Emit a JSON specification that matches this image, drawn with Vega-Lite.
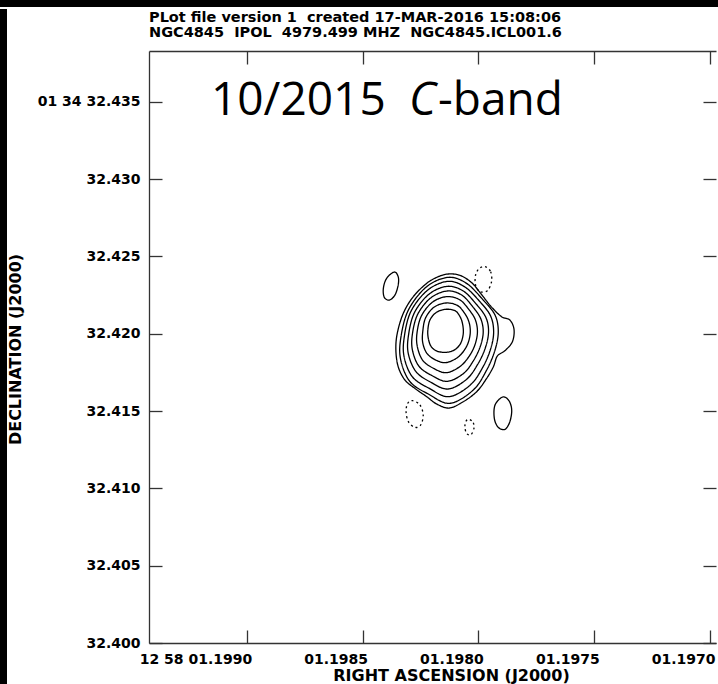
{
"$schema": "https://vega.github.io/schema/vega-lite/v6.json",
"padding": 0,
"background": "white",
"spacing": 2,
"config": {"view": {"stroke": null}},
"datasets": {
"blank": [{"v": 1}],
"txt": [{"t": "10/2015", "ra": 1.199154, "dec": 32.434139}, {"t": "-band", "ra": 1.198174, "dec": 32.434139}],
"txtC": [{"t": "C", "ra": 1.198299, "dec": 32.434139}],
"contours": [
{"id":"c1","i":1,"ra":1.198130,"dec":32.423859,"s":"pos"},
{"id":"c1","i":2,"ra":1.198079,"dec":32.423773,"s":"pos"},
{"id":"c1","i":3,"ra":1.198029,"dec":32.423299,"s":"pos"},
{"id":"c1","i":4,"ra":1.197990,"dec":32.422609,"s":"pos"},
{"id":"c1","i":5,"ra":1.197947,"dec":32.421790,"s":"pos"},
{"id":"c1","i":6,"ra":1.197900,"dec":32.421100,"s":"pos"},
{"id":"c1","i":7,"ra":1.197864,"dec":32.420885,"s":"pos"},
{"id":"c1","i":8,"ra":1.197846,"dec":32.420281,"s":"pos"},
{"id":"c1","i":9,"ra":1.197853,"dec":32.419484,"s":"pos"},
{"id":"c1","i":10,"ra":1.197885,"dec":32.418902,"s":"pos"},
{"id":"c1","i":11,"ra":1.197918,"dec":32.418557,"s":"pos"},
{"id":"c1","i":12,"ra":1.197935,"dec":32.417867,"s":"pos"},
{"id":"c1","i":13,"ra":1.197964,"dec":32.417113,"s":"pos"},
{"id":"c1","i":14,"ra":1.198007,"dec":32.416251,"s":"pos"},
{"id":"c1","i":15,"ra":1.198065,"dec":32.415604,"s":"pos"},
{"id":"c1","i":16,"ra":1.198125,"dec":32.415195,"s":"pos"},
{"id":"c1","i":17,"ra":1.198180,"dec":32.415453,"s":"pos"},
{"id":"c1","i":18,"ra":1.198223,"dec":32.415928,"s":"pos"},
{"id":"c1","i":19,"ra":1.198274,"dec":32.416466,"s":"pos"},
{"id":"c1","i":20,"ra":1.198317,"dec":32.417005,"s":"pos"},
{"id":"c1","i":21,"ra":1.198346,"dec":32.417867,"s":"pos"},
{"id":"c1","i":22,"ra":1.198356,"dec":32.418945,"s":"pos"},
{"id":"c1","i":23,"ra":1.198350,"dec":32.420023,"s":"pos"},
{"id":"c1","i":24,"ra":1.198324,"dec":32.421316,"s":"pos"},
{"id":"c1","i":25,"ra":1.198281,"dec":32.422394,"s":"pos"},
{"id":"c1","i":26,"ra":1.198223,"dec":32.423256,"s":"pos"},
{"id":"c1","i":27,"ra":1.198173,"dec":32.423687,"s":"pos"},
{"id":"c2","i":1,"ra":1.198130,"dec":32.423644,"s":"pos"},
{"id":"c2","i":2,"ra":1.198051,"dec":32.423256,"s":"pos"},
{"id":"c2","i":3,"ra":1.197979,"dec":32.422178,"s":"pos"},
{"id":"c2","i":4,"ra":1.197928,"dec":32.421208,"s":"pos"},
{"id":"c2","i":5,"ra":1.197914,"dec":32.420130,"s":"pos"},
{"id":"c2","i":6,"ra":1.197928,"dec":32.418945,"s":"pos"},
{"id":"c2","i":7,"ra":1.197964,"dec":32.417652,"s":"pos"},
{"id":"c2","i":8,"ra":1.198022,"dec":32.416359,"s":"pos"},
{"id":"c2","i":9,"ra":1.198123,"dec":32.415497,"s":"pos"},
{"id":"c2","i":10,"ra":1.198216,"dec":32.416100,"s":"pos"},
{"id":"c2","i":11,"ra":1.198295,"dec":32.416898,"s":"pos"},
{"id":"c2","i":12,"ra":1.198335,"dec":32.418298,"s":"pos"},
{"id":"c2","i":13,"ra":1.198335,"dec":32.419700,"s":"pos"},
{"id":"c2","i":14,"ra":1.198302,"dec":32.421531,"s":"pos"},
{"id":"c2","i":15,"ra":1.198223,"dec":32.423040,"s":"pos"},
{"id":"c3","i":1,"ra":1.198131,"dec":32.423385,"s":"pos"},
{"id":"c3","i":2,"ra":1.198058,"dec":32.423019,"s":"pos"},
{"id":"c3","i":3,"ra":1.197992,"dec":32.422049,"s":"pos"},
{"id":"c3","i":4,"ra":1.197947,"dec":32.421143,"s":"pos"},
{"id":"c3","i":5,"ra":1.197934,"dec":32.420109,"s":"pos"},
{"id":"c3","i":6,"ra":1.197947,"dec":32.419010,"s":"pos"},
{"id":"c3","i":7,"ra":1.197981,"dec":32.417824,"s":"pos"},
{"id":"c3","i":8,"ra":1.198035,"dec":32.416682,"s":"pos"},
{"id":"c3","i":9,"ra":1.198127,"dec":32.415928,"s":"pos"},
{"id":"c3","i":10,"ra":1.198212,"dec":32.416466,"s":"pos"},
{"id":"c3","i":11,"ra":1.198284,"dec":32.417199,"s":"pos"},
{"id":"c3","i":12,"ra":1.198320,"dec":32.418471,"s":"pos"},
{"id":"c3","i":13,"ra":1.198320,"dec":32.419764,"s":"pos"},
{"id":"c3","i":14,"ra":1.198291,"dec":32.421445,"s":"pos"},
{"id":"c3","i":15,"ra":1.198218,"dec":32.422825,"s":"pos"},
{"id":"c4","i":1,"ra":1.198134,"dec":32.423062,"s":"pos"},
{"id":"c4","i":2,"ra":1.198065,"dec":32.422760,"s":"pos"},
{"id":"c4","i":3,"ra":1.198007,"dec":32.421876,"s":"pos"},
{"id":"c4","i":4,"ra":1.197967,"dec":32.421036,"s":"pos"},
{"id":"c4","i":5,"ra":1.197956,"dec":32.420109,"s":"pos"},
{"id":"c4","i":6,"ra":1.197970,"dec":32.419074,"s":"pos"},
{"id":"c4","i":7,"ra":1.198002,"dec":32.418040,"s":"pos"},
{"id":"c4","i":8,"ra":1.198051,"dec":32.417048,"s":"pos"},
{"id":"c4","i":9,"ra":1.198131,"dec":32.416423,"s":"pos"},
{"id":"c4","i":10,"ra":1.198207,"dec":32.416876,"s":"pos"},
{"id":"c4","i":11,"ra":1.198269,"dec":32.417544,"s":"pos"},
{"id":"c4","i":12,"ra":1.198302,"dec":32.418686,"s":"pos"},
{"id":"c4","i":13,"ra":1.198302,"dec":32.419850,"s":"pos"},
{"id":"c4","i":14,"ra":1.198276,"dec":32.421359,"s":"pos"},
{"id":"c4","i":15,"ra":1.198212,"dec":32.422566,"s":"pos"},
{"id":"c5","i":1,"ra":1.198135,"dec":32.422760,"s":"pos"},
{"id":"c5","i":2,"ra":1.198072,"dec":32.422501,"s":"pos"},
{"id":"c5","i":3,"ra":1.198022,"dec":32.421704,"s":"pos"},
{"id":"c5","i":4,"ra":1.197989,"dec":32.420949,"s":"pos"},
{"id":"c5","i":5,"ra":1.197979,"dec":32.420087,"s":"pos"},
{"id":"c5","i":6,"ra":1.197992,"dec":32.419161,"s":"pos"},
{"id":"c5","i":7,"ra":1.198022,"dec":32.418234,"s":"pos"},
{"id":"c5","i":8,"ra":1.198065,"dec":32.417415,"s":"pos"},
{"id":"c5","i":9,"ra":1.198135,"dec":32.416919,"s":"pos"},
{"id":"c5","i":10,"ra":1.198202,"dec":32.417307,"s":"pos"},
{"id":"c5","i":11,"ra":1.198256,"dec":32.417889,"s":"pos"},
{"id":"c5","i":12,"ra":1.198284,"dec":32.418902,"s":"pos"},
{"id":"c5","i":13,"ra":1.198285,"dec":32.419937,"s":"pos"},
{"id":"c5","i":14,"ra":1.198262,"dec":32.421251,"s":"pos"},
{"id":"c5","i":15,"ra":1.198206,"dec":32.422307,"s":"pos"},
{"id":"c6","i":1,"ra":1.198138,"dec":32.422394,"s":"pos"},
{"id":"c6","i":2,"ra":1.198081,"dec":32.422200,"s":"pos"},
{"id":"c6","i":3,"ra":1.198039,"dec":32.421531,"s":"pos"},
{"id":"c6","i":4,"ra":1.198012,"dec":32.420863,"s":"pos"},
{"id":"c6","i":5,"ra":1.198004,"dec":32.420066,"s":"pos"},
{"id":"c6","i":6,"ra":1.198016,"dec":32.419225,"s":"pos"},
{"id":"c6","i":7,"ra":1.198043,"dec":32.418471,"s":"pos"},
{"id":"c6","i":8,"ra":1.198082,"dec":32.417846,"s":"pos"},
{"id":"c6","i":9,"ra":1.198140,"dec":32.417479,"s":"pos"},
{"id":"c6","i":10,"ra":1.198196,"dec":32.417781,"s":"pos"},
{"id":"c6","i":11,"ra":1.198240,"dec":32.418277,"s":"pos"},
{"id":"c6","i":12,"ra":1.198263,"dec":32.419139,"s":"pos"},
{"id":"c6","i":13,"ra":1.198265,"dec":32.420023,"s":"pos"},
{"id":"c6","i":14,"ra":1.198246,"dec":32.421143,"s":"pos"},
{"id":"c6","i":15,"ra":1.198199,"dec":32.422027,"s":"pos"},
{"id":"c7","i":1,"ra":1.198141,"dec":32.421984,"s":"pos"},
{"id":"c7","i":2,"ra":1.198091,"dec":32.421833,"s":"pos"},
{"id":"c7","i":3,"ra":1.198059,"dec":32.421316,"s":"pos"},
{"id":"c7","i":4,"ra":1.198040,"dec":32.420734,"s":"pos"},
{"id":"c7","i":5,"ra":1.198035,"dec":32.420044,"s":"pos"},
{"id":"c7","i":6,"ra":1.198046,"dec":32.419333,"s":"pos"},
{"id":"c7","i":7,"ra":1.198071,"dec":32.418730,"s":"pos"},
{"id":"c7","i":8,"ra":1.198102,"dec":32.418342,"s":"pos"},
{"id":"c7","i":9,"ra":1.198145,"dec":32.418126,"s":"pos"},
{"id":"c7","i":10,"ra":1.198190,"dec":32.418342,"s":"pos"},
{"id":"c7","i":11,"ra":1.198223,"dec":32.418751,"s":"pos"},
{"id":"c7","i":12,"ra":1.198240,"dec":32.419419,"s":"pos"},
{"id":"c7","i":13,"ra":1.198240,"dec":32.420130,"s":"pos"},
{"id":"c7","i":14,"ra":1.198228,"dec":32.421014,"s":"pos"},
{"id":"c7","i":15,"ra":1.198192,"dec":32.421704,"s":"pos"},
{"id":"c8","i":1,"ra":1.198144,"dec":32.421575,"s":"pos"},
{"id":"c8","i":2,"ra":1.198101,"dec":32.421488,"s":"pos"},
{"id":"c8","i":3,"ra":1.198079,"dec":32.421100,"s":"pos"},
{"id":"c8","i":4,"ra":1.198068,"dec":32.420626,"s":"pos"},
{"id":"c8","i":5,"ra":1.198065,"dec":32.420023,"s":"pos"},
{"id":"c8","i":6,"ra":1.198075,"dec":32.419419,"s":"pos"},
{"id":"c8","i":7,"ra":1.198097,"dec":32.419010,"s":"pos"},
{"id":"c8","i":8,"ra":1.198123,"dec":32.418837,"s":"pos"},
{"id":"c8","i":9,"ra":1.198151,"dec":32.418794,"s":"pos"},
{"id":"c8","i":10,"ra":1.198183,"dec":32.418902,"s":"pos"},
{"id":"c8","i":11,"ra":1.198205,"dec":32.419204,"s":"pos"},
{"id":"c8","i":12,"ra":1.198216,"dec":32.419700,"s":"pos"},
{"id":"c8","i":13,"ra":1.198218,"dec":32.420238,"s":"pos"},
{"id":"c8","i":14,"ra":1.198209,"dec":32.420885,"s":"pos"},
{"id":"c8","i":15,"ra":1.198183,"dec":32.421359,"s":"pos"},
{"id":"e1","i":1,"ra":1.198363,"dec":32.423988,"s":"pos"},
{"id":"e1","i":2,"ra":1.198346,"dec":32.423687,"s":"pos"},
{"id":"e1","i":3,"ra":1.198346,"dec":32.423148,"s":"pos"},
{"id":"e1","i":4,"ra":1.198360,"dec":32.422501,"s":"pos"},
{"id":"e1","i":5,"ra":1.198384,"dec":32.422178,"s":"pos"},
{"id":"e1","i":6,"ra":1.198406,"dec":32.422351,"s":"pos"},
{"id":"e1","i":7,"ra":1.198410,"dec":32.422932,"s":"pos"},
{"id":"e1","i":8,"ra":1.198396,"dec":32.423579,"s":"pos"},
{"id":"e2","i":1,"ra":1.197971,"dec":32.424333,"s":"neg"},
{"id":"e2","i":2,"ra":1.197947,"dec":32.424010,"s":"neg"},
{"id":"e2","i":3,"ra":1.197943,"dec":32.423364,"s":"neg"},
{"id":"e2","i":4,"ra":1.197961,"dec":32.422782,"s":"neg"},
{"id":"e2","i":5,"ra":1.197993,"dec":32.422717,"s":"neg"},
{"id":"e2","i":6,"ra":1.198012,"dec":32.423148,"s":"neg"},
{"id":"e2","i":7,"ra":1.198012,"dec":32.423795,"s":"neg"},
{"id":"e2","i":8,"ra":1.197996,"dec":32.424226,"s":"neg"},
{"id":"e3","i":1,"ra":1.198284,"dec":32.415669,"s":"neg"},
{"id":"e3","i":2,"ra":1.198252,"dec":32.415389,"s":"neg"},
{"id":"e3","i":3,"ra":1.198238,"dec":32.414742,"s":"neg"},
{"id":"e3","i":4,"ra":1.198249,"dec":32.414096,"s":"neg"},
{"id":"e3","i":5,"ra":1.198274,"dec":32.413945,"s":"neg"},
{"id":"e3","i":6,"ra":1.198302,"dec":32.414311,"s":"neg"},
{"id":"e3","i":7,"ra":1.198312,"dec":32.414958,"s":"neg"},
{"id":"e3","i":8,"ra":1.198305,"dec":32.415497,"s":"neg"},
{"id":"e4","i":1,"ra":1.197895,"dec":32.415906,"s":"pos"},
{"id":"e4","i":2,"ra":1.197868,"dec":32.415669,"s":"pos"},
{"id":"e4","i":3,"ra":1.197856,"dec":32.415065,"s":"pos"},
{"id":"e4","i":4,"ra":1.197864,"dec":32.414311,"s":"pos"},
{"id":"e4","i":5,"ra":1.197885,"dec":32.413815,"s":"pos"},
{"id":"e4","i":6,"ra":1.197914,"dec":32.413945,"s":"pos"},
{"id":"e4","i":7,"ra":1.197931,"dec":32.414527,"s":"pos"},
{"id":"e4","i":8,"ra":1.197928,"dec":32.415389,"s":"pos"},
{"id":"e5","i":1,"ra":1.198039,"dec":32.414462,"s":"neg"},
{"id":"e5","i":2,"ra":1.198022,"dec":32.414246,"s":"neg"},
{"id":"e5","i":3,"ra":1.198019,"dec":32.413880,"s":"neg"},
{"id":"e5","i":4,"ra":1.198032,"dec":32.413471,"s":"neg"},
{"id":"e5","i":5,"ra":1.198051,"dec":32.413557,"s":"neg"},
{"id":"e5","i":6,"ra":1.198058,"dec":32.413988,"s":"neg"},
{"id":"e5","i":7,"ra":1.198053,"dec":32.414354,"s":"neg"}
]
},
"vconcat": [
{"width": 718, "height": 7, "data": {"name": "blank"}, "mark": {"type": "rect", "color": "black"}, "encoding": {}, "view": {"fill": "black", "stroke": null}},
{"spacing": 0, "hconcat": [
{"width": 7, "height": 675, "data": {"name": "blank"}, "mark": {"type": "rect", "color": "black"}, "encoding": {}, "view": {"fill": "black", "stroke": null}},
{"spacing": 0, "vconcat": [
{"width": 1, "height": 1, "data": {"name": "blank"}, "mark": {"type": "rect", "color": "white"}, "encoding": {}, "view": {"fill": "white", "stroke": null}},
{"width": 567, "height": 592,
"title": {"text": ["PLot file version 1\u00a0 created 17-MAR-2016 15:08:06", "NGC4845\u00a0 IPOL\u00a0 4979.499 MHZ\u00a0 NGC4845.ICL001.6"], "anchor": "start", "frame": "group", "font": "DejaVu Sans", "fontWeight": "bold", "fontSize": 14.5, "lineHeight": 14.5, "color": "black", "offset": 10},
"resolve": {"axis": {"x": "independent", "y": "independent"}},
"layer": [
{"data": {"name": "contours"},
"mark": {"type": "line", "interpolate": "cardinal-closed", "color": "black", "strokeWidth": 1.3},
"encoding": {
"x": {"field": "ra", "type": "quantitative", "scale": {"domain": [1.1969741, 1.1994217], "reverse": true, "nice": false, "zero": false},
"axis": {"orient": "bottom", "values": [1.199, 1.1985, 1.198, 1.1975, 1.197], "labelExpr": "datum.value > 1.19899 ? '12 58 01.1990' : '0' + format(datum.value, '.4f')", "tickSize": -13, "labelPadding": 22, "labelAlign": "right", "labelOffset": 5, "labelFlush": false, "labelOverlap": false, "labelBound": false, "labelFont": "DejaVu Sans", "labelFontWeight": "bold", "labelFontSize": 14, "labelColor": "black", "domainColor": "#333", "domainWidth": 1.3, "tickColor": "#333", "tickWidth": 1.3, "grid": false, "title": "RIGHT ASCENSION (J2000)", "titleFont": "DejaVu Sans", "titleFontWeight": "bold", "titleFontSize": 16, "titleColor": "black", "titleX": 302, "titleY": 37, "titleBaseline": "alphabetic", "titleAlign": "center"}},
"y": {"field": "dec", "type": "quantitative", "scale": {"domain": [32.4, 32.43828], "nice": false, "zero": false},
"axis": {"orient": "left", "values": [32.4, 32.405, 32.41, 32.415, 32.42, 32.425, 32.43, 32.435], "labelExpr": "datum.value > 32.4349 ? '01 34 32.435' : format(datum.value, '.3f')", "tickSize": -13, "labelPadding": 22, "labelAlign": "right", "labelBaseline": "middle", "labelFlush": false, "labelOverlap": false, "labelBound": false, "labelFont": "DejaVu Sans", "labelFontWeight": "bold", "labelFontSize": 14, "labelColor": "black", "domainColor": "#333", "domainWidth": 1.3, "tickColor": "#333", "tickWidth": 1.3, "grid": false, "title": "DECLINATION (J2000)", "titleFont": "DejaVu Sans", "titleFontWeight": "bold", "titleFontSize": 16, "titleColor": "black", "titleX": -126, "titleY": 298, "titleAngle": 270, "titleBaseline": "bottom", "titleAlign": "center"}},
"detail": {"field": "id"},
"order": {"field": "i", "type": "quantitative"},
"strokeDash": {"field": "s", "type": "nominal", "scale": {"domain": ["pos", "neg"], "range": [[1, 0], [2, 3]]}, "legend": null}
}},
{"data": {"name": "txt"},
"mark": {"type": "text", "align": "left", "baseline": "alphabetic", "font": "Open Sans", "fontSize": 46, "color": "black"},
"encoding": {
"x": {"field": "ra", "type": "quantitative", "scale": {"domain": [1.1969741, 1.1994217], "reverse": true, "nice": false, "zero": false}, "axis": null},
"y": {"field": "dec", "type": "quantitative", "scale": {"domain": [32.4, 32.43828], "nice": false, "zero": false}, "axis": null},
"text": {"field": "t"}
}},
{"data": {"name": "txtC"},
"mark": {"type": "text", "align": "left", "baseline": "alphabetic", "font": "Open Sans", "fontSize": 46, "fontStyle": "italic", "color": "black"},
"encoding": {
"x": {"field": "ra", "type": "quantitative", "scale": {"domain": [1.1969741, 1.1994217], "reverse": true, "nice": false, "zero": false},
"axis": {"orient": "top", "values": [1.199, 1.1985, 1.198, 1.1975, 1.197], "tickSize": -13, "labels": false, "domain": true, "title": null, "grid": false, "domainColor": "#333", "domainWidth": 1.3, "tickColor": "#333", "tickWidth": 1.3}},
"y": {"field": "dec", "type": "quantitative", "scale": {"domain": [32.4, 32.43828], "nice": false, "zero": false},
"axis": {"orient": "right", "values": [32.4, 32.405, 32.41, 32.415, 32.42, 32.425, 32.43, 32.435], "tickSize": -13, "labels": false, "domain": false, "title": null, "grid": false, "tickColor": "#333", "tickWidth": 1.3}},
"text": {"field": "t"}
}}
]}
]}
]}
]
}
